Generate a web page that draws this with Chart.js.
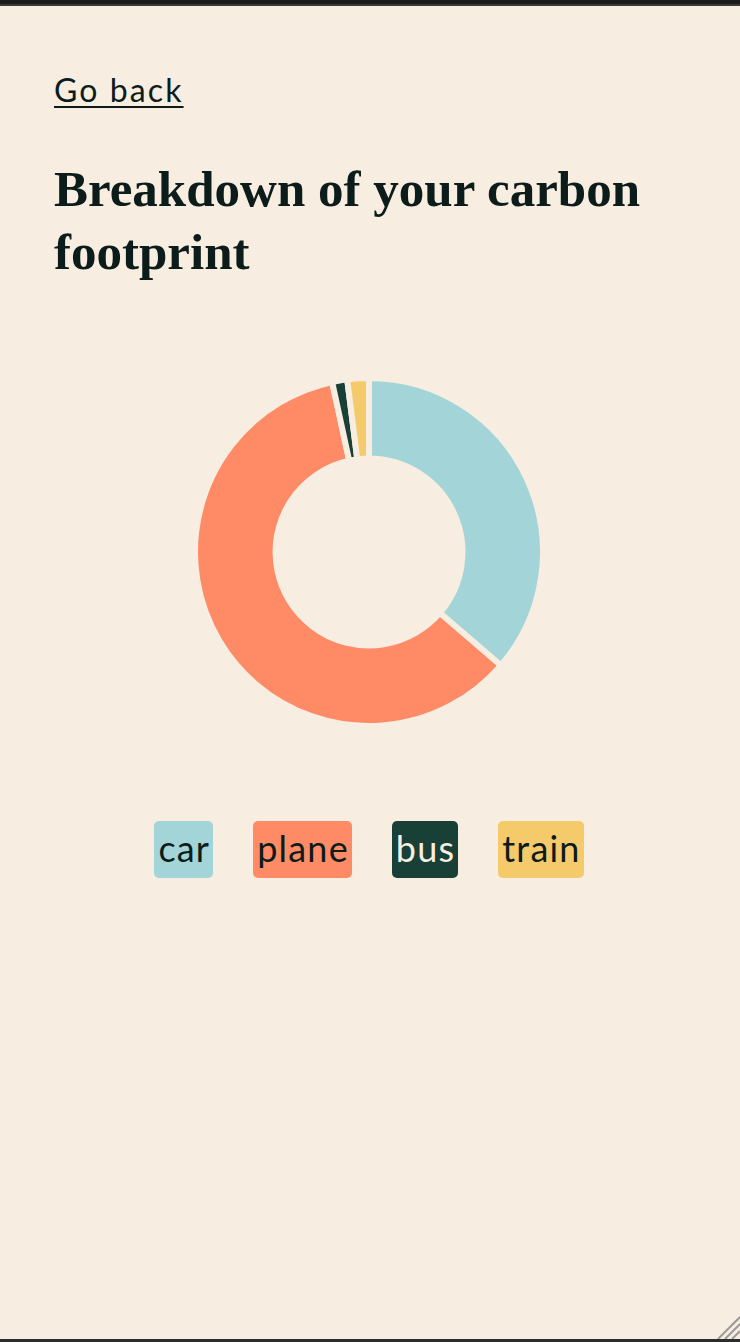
<!DOCTYPE html>
<html>
<head>
<meta charset="utf-8">
<script src="https://cdn.jsdelivr.net/npm/chart.js@4.4.1/dist/chart.umd.min.js"></script>
<style>
  html, body { margin: 0; padding: 0; }
  body { width: 740px; height: 1342px; background: #f7ede1; position: relative; overflow: hidden; }
  .topbar { position: absolute; left: 0; top: 0; width: 740px; height: 4px; background: #1b1b1b; }
  .topbar2 { position: absolute; left: 0; top: 4px; width: 740px; height: 2px; background: #3a3a3a; }
  .botbar { position: absolute; left: 0; top: 1339px; width: 740px; height: 3px; background: #2c2c2c; }
  .grip { position: absolute; right: 0; top: 1315px; width: 24px; height: 24px; }
  .back { position: absolute; left: 54px; top: 74px; font-family: Lato, "Open Sans", sans-serif; font-weight: 400;
          font-size: 32px; line-height: 32px; letter-spacing: 2.1px; color: #0c1c1a; text-decoration: underline;
          text-decoration-thickness: 2px; text-underline-offset: 4px; }
  h1 { position: absolute; left: 54px; top: 158px; width: 640px; margin: 0; font-family: "Liberation Serif", serif;
       font-weight: 700; font-size: 51px; line-height: 63px; color: #0c1c1a; }
  .chartwrap { position: absolute; left: 0; top: 375px; width: 738px; height: 354px; }
  .legend { position: absolute; left: 0; top: 821px; width: 738px; display: flex; justify-content: center; gap: 40px; }
  .legend span { display: block; height: 57px; line-height: 55px; padding: 0 3px 0 4px; border-radius: 5px;
                 font-family: Lato, "Open Sans", sans-serif; font-weight: 400; font-size: 36px; letter-spacing: 1.2px; }
</style>
</head>
<body>
<div class="topbar"></div><div class="topbar2"></div>
<a class="back">Go back</a>
<h1>Breakdown of your carbon footprint</h1>
<div class="chartwrap"><canvas id="c"></canvas></div>
<div class="legend" id="legend"></div>
<div class="botbar"></div>
<svg class="grip" width="24" height="24" viewBox="0 0 24 24">
  <line x1="2" y1="24" x2="24" y2="2" stroke="#9a9a9a" stroke-width="2"/>
  <line x1="9" y1="24" x2="24" y2="9" stroke="#9a9a9a" stroke-width="2"/>
  <line x1="16" y1="24" x2="24" y2="16" stroke="#9a9a9a" stroke-width="2"/>
</svg>
<script>
const categories = ['car', 'plane', 'bus', 'train'];
const values = [36.3, 60.3, 1.4, 2.0];
const colors = ['#a3d5d8', '#ff8b66', '#184036', '#f4ca6b'];
const textColors = ['#0c1c1a', '#0c1c1a', '#f7ede1', '#0c1c1a'];
const pageBg = '#f7ede1';

new Chart(document.getElementById('c'), {
  type: 'doughnut',
  data: {
    labels: categories,
    datasets: [{
      data: values,
      backgroundColor: colors,
      borderColor: pageBg,
      borderWidth: 6,
      hoverBorderWidth: 6
    }]
  },
  options: {
    responsive: true,
    maintainAspectRatio: false,
    animation: false,
    cutout: '53.7%',
    layout: { padding: 0 },
    plugins: { legend: { display: false }, tooltip: { enabled: false } }
  }
});

const legend = document.getElementById('legend');
categories.forEach((c, i) => {
  const s = document.createElement('span');
  s.textContent = c;
  s.style.background = colors[i];
  s.style.color = textColors[i];
  legend.appendChild(s);
});
</script>
</body>
</html>
